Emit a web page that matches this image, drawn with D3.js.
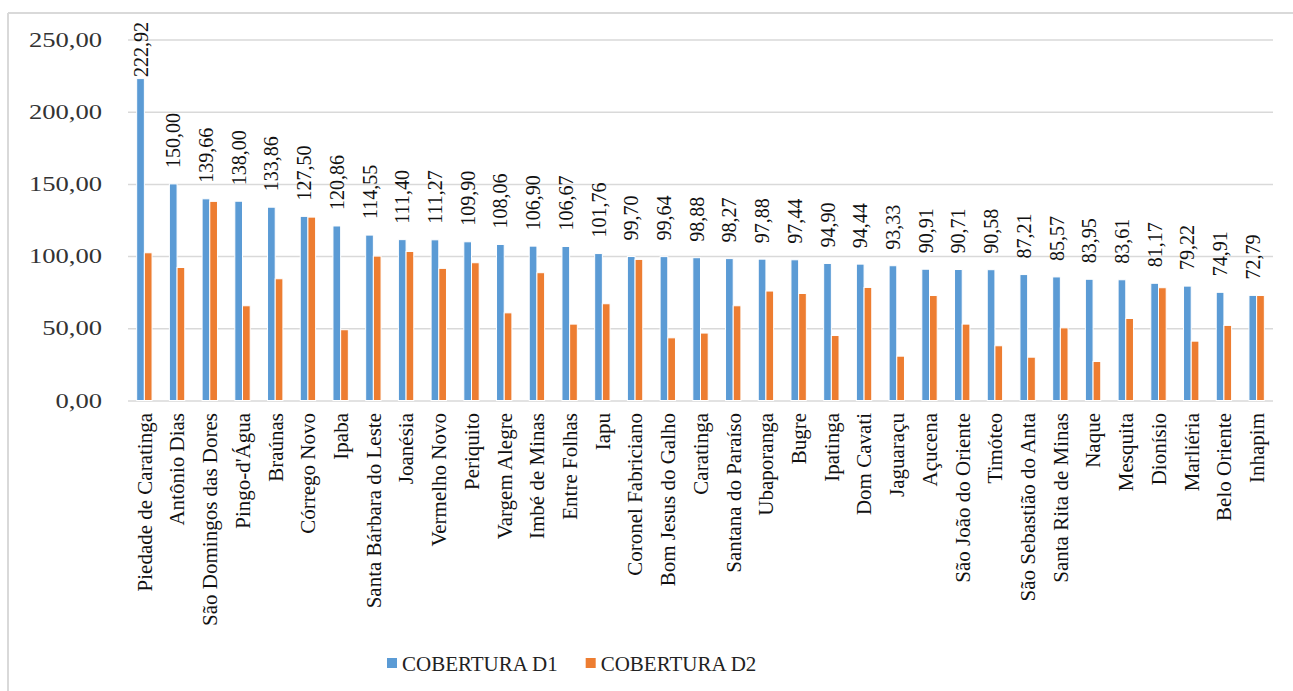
<!DOCTYPE html>
<html>
<head>
<meta charset="utf-8">
<script src="https://cdn.jsdelivr.net/npm/d3@7"></script>
<style>
  body { margin: 0; background: #fff; }
  svg { display: block; }
  svg text { font-family: "Liberation Serif", "Times New Roman", Tinos, "DejaVu Serif", serif; }
  .grid line { stroke: #d9d9d9; stroke-width: 1.5; }
  .grid .domain { display: none; }
</style>
</head>
<body>
<svg class="chart" width="1293" height="691"></svg>
<script>
// municipalities, ordered as in the chart
const categories = [
  "Piedade de Caratinga", "Antônio Dias", "São Domingos das Dores", "Pingo-d'Água",
  "Braúnas", "Córrego Novo", "Ipaba", "Santa Bárbara do Leste", "Joanésia",
  "Vermelho Novo", "Periquito", "Vargem Alegre", "Imbé de Minas", "Entre Folhas",
  "Iapu", "Coronel Fabriciano", "Bom Jesus do Galho", "Caratinga", "Santana do Paraíso",
  "Ubaporanga", "Bugre", "Ipatinga", "Dom Cavati", "Jaguaraçu", "Açucena",
  "São João do Oriente", "Timóteo", "São Sebastião do Anta", "Santa Rita de Minas",
  "Naque", "Mesquita", "Dionísio", "Marliéria", "Belo Oriente", "Inhapim"
];
const coberturaD1 = [
  222.92, 150.00, 139.66, 138.00, 133.86, 127.50, 120.86, 114.55, 111.40, 111.27,
  109.90, 108.06, 106.90, 106.67, 101.76, 99.70, 99.64, 98.88, 98.27, 97.88,
  97.44, 94.90, 94.44, 93.33, 90.91, 90.71, 90.58, 87.21, 85.57, 83.95,
  83.61, 81.17, 79.22, 74.91, 72.79
];
// D2 has no labels
const coberturaD2 = [
  102.3, 92.1, 137.9, 65.6, 84.3, 127.0, 49.0, 100.0, 103.2, 91.5,
  95.4, 60.7, 88.5, 52.9, 67.0, 97.7, 43.4, 46.7, 65.6, 75.8,
  74.1, 45.0, 78.3, 30.7, 72.7, 52.9, 37.9, 30.0, 50.3, 27.0,
  56.8, 78.1, 41.1, 52.0, 72.7
];
const seriesNames = ["COBERTURA D1", "COBERTURA D2"];
const yTicks = [0, 50, 100, 150, 200, 250];

const colors = ["#5b9bd5", "#ed7d31"];
const ptBR = d3.formatLocale({decimal: ",", thousands: ".", grouping: [3], currency: ["R$", ""]});
const fmt = ptBR.format(".2f");

const svg = d3.select(".chart");
const plot = {left: 128, right: 1273, top: 39.5, bottom: 400.5};

// outer frame (only top and left edges show in the picture)
svg.append("line").attr("x1", 8).attr("y1", 13).attr("x2", 1293).attr("y2", 13)
  .attr("stroke", "#d9d9d9").attr("stroke-width", 2);
svg.append("line").attr("x1", 8).attr("y1", 13).attr("x2", 8).attr("y2", 691)
  .attr("stroke", "#d9d9d9").attr("stroke-width", 2);

const x = d3.scaleBand()
  .domain(categories)
  .range([plot.left, plot.right])
  .paddingInner(0.53)
  .paddingOuter(0.265);
const xs = d3.scaleBand().domain([0, 1]).range([0, x.bandwidth()]);
const y = d3.scaleLinear().domain([0, 250]).range([plot.bottom, plot.top]);
const color = d3.scaleOrdinal().domain([0, 1]).range(colors);

// gridlines
svg.append("g")
  .attr("class", "grid")
  .attr("transform", "translate(" + plot.left + ",0)")
  .call(d3.axisLeft(y).tickValues(yTicks).tickSize(-(plot.right - plot.left)).tickFormat(""));

// y tick labels (the picture has them stretched wide)
svg.append("g").selectAll("text")
  .data(yTicks)
  .enter().append("text")
  .attr("transform", d => "translate(102," + y(d) + ") scale(1.33,1)")
  .attr("dy", "0.35em")
  .attr("text-anchor", "end")
  .attr("font-size", 20)
  .attr("fill", "#333")
  .text(d => fmt(d));

// bars
const rows = categories.map((c, i) => ({cat: c, vals: [coberturaD1[i], coberturaD2[i]]}));
const group = svg.append("g").selectAll("g")
  .data(rows)
  .enter().append("g")
  .attr("transform", d => "translate(" + x(d.cat) + ",0)");
group.selectAll("rect")
  .data(d => d.vals.map((v, k) => ({k: k, v: v})))
  .enter().append("rect")
  .attr("x", d => xs(d.k))
  .attr("width", xs.bandwidth())
  .attr("y", d => y(d.v))
  .attr("height", d => y(0) - y(d.v))
  .attr("fill", d => color(d.k))
  .attr("stroke", "#fff")
  .attr("stroke-width", 1);

// data labels on D1, rotated
const labels = svg.append("g").selectAll("text")
  .data(rows)
  .enter().append("text")
  .attr("font-size", 20)
  .attr("fill", "#111")
  .attr("dy", "0.35em")
  .text(d => fmt(d.vals[0]));
labels.attr("transform", function (d) {
  const len = this.getComputedTextLength();
  const cx = x(d.cat) + xs(0) + xs.bandwidth() / 2;
  const base = Math.max(y(d.vals[0]) - 16, 22 + len); // keep inside the frame
  return "translate(" + cx + "," + base + ") rotate(-90)";
});

// category labels
svg.append("g").selectAll("text")
  .data(categories)
  .enter().append("text")
  .attr("transform", d => "translate(" + (x(d) + x.bandwidth() / 2) + ",413) rotate(-90)")
  .attr("text-anchor", "end")
  .attr("dy", "0.35em")
  .attr("font-size", 21)
  .attr("fill", "#111")
  .text(d => d);

// legend
const legend = svg.append("g").attr("class", "legend");
let lx = 387;
seriesNames.forEach(function (name, k) {
  legend.append("rect")
    .attr("x", lx).attr("y", 658)
    .attr("width", 10).attr("height", 10)
    .attr("fill", color(k));
  const t = legend.append("text")
    .attr("x", lx + 15).attr("y", 671)
    .attr("font-size", 21)
    .attr("fill", "#222")
    .text(name);
  lx += 15 + t.node().getComputedTextLength() + 28;
});
</script>
</body>
</html>
